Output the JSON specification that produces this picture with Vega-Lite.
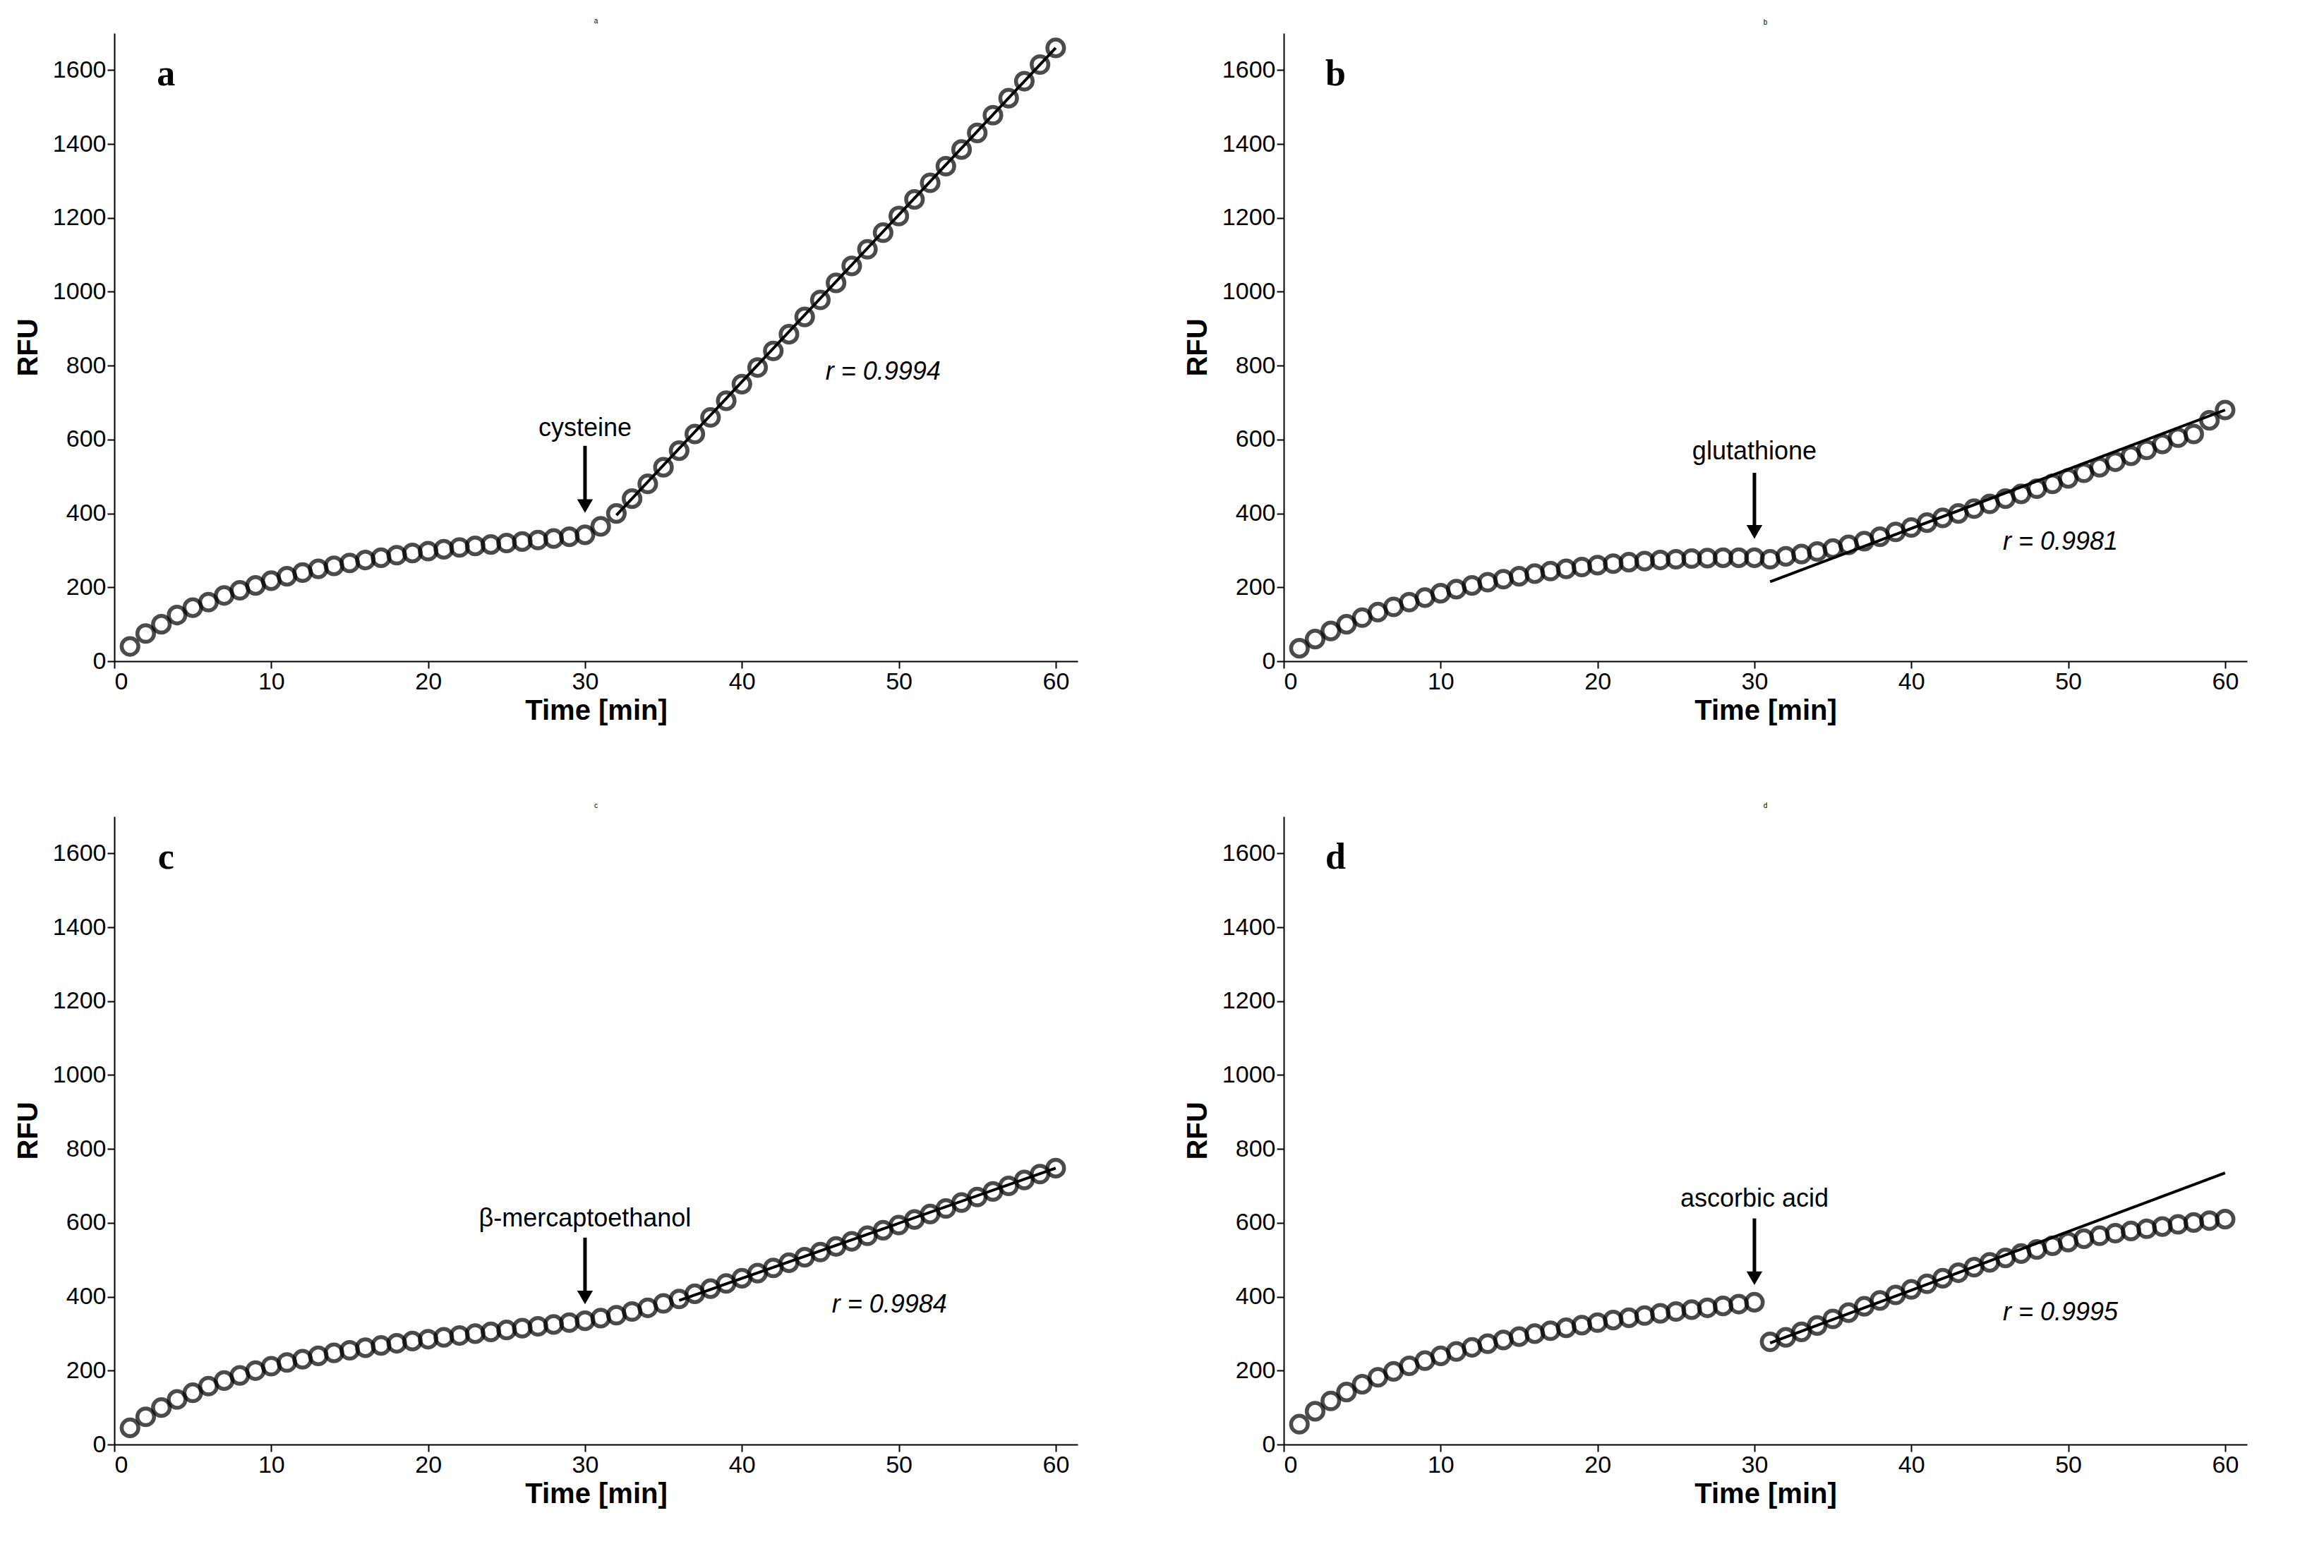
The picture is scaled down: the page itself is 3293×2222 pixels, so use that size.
{
  "$schema": "https://vega.github.io/schema/vega-lite/v6.json",
  "background": "white",
  "padding": {"left": 20, "top": 25, "right": 20, "bottom": 10},
  "config": {
    "font": "Liberation Sans",
    "view": {"stroke": null},
    "axis": {"grid": false, "domainColor": "black", "tickColor": "black", "domainWidth": 2, "tickWidth": 2, "tickSize": 10, "labelFontSize": 34, "labelColor": "black", "titleFontSize": 40, "titleFontWeight": "bold", "titleColor": "black", "format": "d"}
  },
  "data": {"values": [
    {"p":"a","k":"pt","x":1,"y":40},{"p":"a","k":"pt","x":2,"y":75},{"p":"a","k":"pt","x":3,"y":100},{"p":"a","k":"pt","x":4,"y":125},{"p":"a","k":"pt","x":5,"y":145},{"p":"a","k":"pt","x":6,"y":160},{"p":"a","k":"pt","x":7,"y":178},{"p":"a","k":"pt","x":8,"y":192},{"p":"a","k":"pt","x":9,"y":205},{"p":"a","k":"pt","x":10,"y":218},
    {"p":"a","k":"pt","x":11,"y":230},{"p":"a","k":"pt","x":12,"y":240},{"p":"a","k":"pt","x":13,"y":250},{"p":"a","k":"pt","x":14,"y":258},{"p":"a","k":"pt","x":15,"y":266},{"p":"a","k":"pt","x":16,"y":274},{"p":"a","k":"pt","x":17,"y":280},{"p":"a","k":"pt","x":18,"y":287},{"p":"a","k":"pt","x":19,"y":293},{"p":"a","k":"pt","x":20,"y":298},
    {"p":"a","k":"pt","x":21,"y":303},{"p":"a","k":"pt","x":22,"y":308},{"p":"a","k":"pt","x":23,"y":312},{"p":"a","k":"pt","x":24,"y":316},{"p":"a","k":"pt","x":25,"y":320},{"p":"a","k":"pt","x":26,"y":324},{"p":"a","k":"pt","x":27,"y":328},{"p":"a","k":"pt","x":28,"y":332},{"p":"a","k":"pt","x":29,"y":337},{"p":"a","k":"pt","x":30,"y":342},
    {"p":"a","k":"pt","x":31,"y":365},{"p":"a","k":"pt","x":32,"y":400},{"p":"a","k":"pt","x":33,"y":440},{"p":"a","k":"pt","x":34,"y":480},{"p":"a","k":"pt","x":35,"y":525},{"p":"a","k":"pt","x":36,"y":570},{"p":"a","k":"pt","x":37,"y":615},{"p":"a","k":"pt","x":38,"y":660},{"p":"a","k":"pt","x":39,"y":705},{"p":"a","k":"pt","x":40,"y":750},
    {"p":"a","k":"pt","x":41,"y":795},{"p":"a","k":"pt","x":42,"y":840},{"p":"a","k":"pt","x":43,"y":885},{"p":"a","k":"pt","x":44,"y":932},{"p":"a","k":"pt","x":45,"y":978},{"p":"a","k":"pt","x":46,"y":1024},{"p":"a","k":"pt","x":47,"y":1070},{"p":"a","k":"pt","x":48,"y":1115},{"p":"a","k":"pt","x":49,"y":1160},{"p":"a","k":"pt","x":50,"y":1205},
    {"p":"a","k":"pt","x":51,"y":1250},{"p":"a","k":"pt","x":52,"y":1295},{"p":"a","k":"pt","x":53,"y":1340},{"p":"a","k":"pt","x":54,"y":1385},{"p":"a","k":"pt","x":55,"y":1430},{"p":"a","k":"pt","x":56,"y":1478},{"p":"a","k":"pt","x":57,"y":1524},{"p":"a","k":"pt","x":58,"y":1570},{"p":"a","k":"pt","x":59,"y":1615},{"p":"a","k":"pt","x":60,"y":1660},
    {"p":"b","k":"pt","x":1,"y":35},{"p":"b","k":"pt","x":2,"y":60},{"p":"b","k":"pt","x":3,"y":82},{"p":"b","k":"pt","x":4,"y":100},{"p":"b","k":"pt","x":5,"y":118},{"p":"b","k":"pt","x":6,"y":133},{"p":"b","k":"pt","x":7,"y":147},{"p":"b","k":"pt","x":8,"y":160},{"p":"b","k":"pt","x":9,"y":172},{"p":"b","k":"pt","x":10,"y":184},
    {"p":"b","k":"pt","x":11,"y":195},{"p":"b","k":"pt","x":12,"y":205},{"p":"b","k":"pt","x":13,"y":214},{"p":"b","k":"pt","x":14,"y":222},{"p":"b","k":"pt","x":15,"y":230},{"p":"b","k":"pt","x":16,"y":237},{"p":"b","k":"pt","x":17,"y":244},{"p":"b","k":"pt","x":18,"y":250},{"p":"b","k":"pt","x":19,"y":255},{"p":"b","k":"pt","x":20,"y":260},
    {"p":"b","k":"pt","x":21,"y":264},{"p":"b","k":"pt","x":22,"y":268},{"p":"b","k":"pt","x":23,"y":271},{"p":"b","k":"pt","x":24,"y":274},{"p":"b","k":"pt","x":25,"y":276},{"p":"b","k":"pt","x":26,"y":278},{"p":"b","k":"pt","x":27,"y":279},{"p":"b","k":"pt","x":28,"y":280},{"p":"b","k":"pt","x":29,"y":280},{"p":"b","k":"pt","x":30,"y":280},
    {"p":"b","k":"pt","x":31,"y":276},{"p":"b","k":"pt","x":32,"y":284},{"p":"b","k":"pt","x":33,"y":290},{"p":"b","k":"pt","x":34,"y":297},{"p":"b","k":"pt","x":35,"y":305},{"p":"b","k":"pt","x":36,"y":315},{"p":"b","k":"pt","x":37,"y":325},{"p":"b","k":"pt","x":38,"y":337},{"p":"b","k":"pt","x":39,"y":350},{"p":"b","k":"pt","x":40,"y":362},
    {"p":"b","k":"pt","x":41,"y":375},{"p":"b","k":"pt","x":42,"y":388},{"p":"b","k":"pt","x":43,"y":400},{"p":"b","k":"pt","x":44,"y":413},{"p":"b","k":"pt","x":45,"y":426},{"p":"b","k":"pt","x":46,"y":440},{"p":"b","k":"pt","x":47,"y":453},{"p":"b","k":"pt","x":48,"y":467},{"p":"b","k":"pt","x":49,"y":480},{"p":"b","k":"pt","x":50,"y":495},
    {"p":"b","k":"pt","x":51,"y":510},{"p":"b","k":"pt","x":52,"y":525},{"p":"b","k":"pt","x":53,"y":540},{"p":"b","k":"pt","x":54,"y":556},{"p":"b","k":"pt","x":55,"y":572},{"p":"b","k":"pt","x":56,"y":588},{"p":"b","k":"pt","x":57,"y":605},{"p":"b","k":"pt","x":58,"y":615},{"p":"b","k":"pt","x":59,"y":652},{"p":"b","k":"pt","x":60,"y":680},
    {"p":"c","k":"pt","x":1,"y":45},{"p":"c","k":"pt","x":2,"y":75},{"p":"c","k":"pt","x":3,"y":100},{"p":"c","k":"pt","x":4,"y":122},{"p":"c","k":"pt","x":5,"y":140},{"p":"c","k":"pt","x":6,"y":158},{"p":"c","k":"pt","x":7,"y":173},{"p":"c","k":"pt","x":8,"y":187},{"p":"c","k":"pt","x":9,"y":200},{"p":"c","k":"pt","x":10,"y":212},
    {"p":"c","k":"pt","x":11,"y":222},{"p":"c","k":"pt","x":12,"y":231},{"p":"c","k":"pt","x":13,"y":240},{"p":"c","k":"pt","x":14,"y":248},{"p":"c","k":"pt","x":15,"y":255},{"p":"c","k":"pt","x":16,"y":262},{"p":"c","k":"pt","x":17,"y":268},{"p":"c","k":"pt","x":18,"y":274},{"p":"c","k":"pt","x":19,"y":280},{"p":"c","k":"pt","x":20,"y":285},
    {"p":"c","k":"pt","x":21,"y":290},{"p":"c","k":"pt","x":22,"y":295},{"p":"c","k":"pt","x":23,"y":300},{"p":"c","k":"pt","x":24,"y":305},{"p":"c","k":"pt","x":25,"y":310},{"p":"c","k":"pt","x":26,"y":315},{"p":"c","k":"pt","x":27,"y":320},{"p":"c","k":"pt","x":28,"y":325},{"p":"c","k":"pt","x":29,"y":330},{"p":"c","k":"pt","x":30,"y":335},
    {"p":"c","k":"pt","x":31,"y":342},{"p":"c","k":"pt","x":32,"y":350},{"p":"c","k":"pt","x":33,"y":360},{"p":"c","k":"pt","x":34,"y":370},{"p":"c","k":"pt","x":35,"y":382},{"p":"c","k":"pt","x":36,"y":394},{"p":"c","k":"pt","x":37,"y":408},{"p":"c","k":"pt","x":38,"y":422},{"p":"c","k":"pt","x":39,"y":436},{"p":"c","k":"pt","x":40,"y":450},
    {"p":"c","k":"pt","x":41,"y":464},{"p":"c","k":"pt","x":42,"y":478},{"p":"c","k":"pt","x":43,"y":492},{"p":"c","k":"pt","x":44,"y":507},{"p":"c","k":"pt","x":45,"y":521},{"p":"c","k":"pt","x":46,"y":536},{"p":"c","k":"pt","x":47,"y":550},{"p":"c","k":"pt","x":48,"y":565},{"p":"c","k":"pt","x":49,"y":580},{"p":"c","k":"pt","x":50,"y":594},
    {"p":"c","k":"pt","x":51,"y":609},{"p":"c","k":"pt","x":52,"y":624},{"p":"c","k":"pt","x":53,"y":639},{"p":"c","k":"pt","x":54,"y":655},{"p":"c","k":"pt","x":55,"y":670},{"p":"c","k":"pt","x":56,"y":685},{"p":"c","k":"pt","x":57,"y":700},{"p":"c","k":"pt","x":58,"y":716},{"p":"c","k":"pt","x":59,"y":732},{"p":"c","k":"pt","x":60,"y":748},
    {"p":"d","k":"pt","x":1,"y":55},{"p":"d","k":"pt","x":2,"y":90},{"p":"d","k":"pt","x":3,"y":118},{"p":"d","k":"pt","x":4,"y":142},{"p":"d","k":"pt","x":5,"y":163},{"p":"d","k":"pt","x":6,"y":182},{"p":"d","k":"pt","x":7,"y":198},{"p":"d","k":"pt","x":8,"y":213},{"p":"d","k":"pt","x":9,"y":227},{"p":"d","k":"pt","x":10,"y":240},
    {"p":"d","k":"pt","x":11,"y":252},{"p":"d","k":"pt","x":12,"y":263},{"p":"d","k":"pt","x":13,"y":273},{"p":"d","k":"pt","x":14,"y":283},{"p":"d","k":"pt","x":15,"y":292},{"p":"d","k":"pt","x":16,"y":300},{"p":"d","k":"pt","x":17,"y":308},{"p":"d","k":"pt","x":18,"y":316},{"p":"d","k":"pt","x":19,"y":323},{"p":"d","k":"pt","x":20,"y":330},
    {"p":"d","k":"pt","x":21,"y":337},{"p":"d","k":"pt","x":22,"y":343},{"p":"d","k":"pt","x":23,"y":349},{"p":"d","k":"pt","x":24,"y":355},{"p":"d","k":"pt","x":25,"y":360},{"p":"d","k":"pt","x":26,"y":365},{"p":"d","k":"pt","x":27,"y":370},{"p":"d","k":"pt","x":28,"y":375},{"p":"d","k":"pt","x":29,"y":380},{"p":"d","k":"pt","x":30,"y":385},
    {"p":"d","k":"pt","x":31,"y":278},{"p":"d","k":"pt","x":32,"y":290},{"p":"d","k":"pt","x":33,"y":305},{"p":"d","k":"pt","x":34,"y":322},{"p":"d","k":"pt","x":35,"y":340},{"p":"d","k":"pt","x":36,"y":357},{"p":"d","k":"pt","x":37,"y":374},{"p":"d","k":"pt","x":38,"y":390},{"p":"d","k":"pt","x":39,"y":405},{"p":"d","k":"pt","x":40,"y":420},
    {"p":"d","k":"pt","x":41,"y":435},{"p":"d","k":"pt","x":42,"y":450},{"p":"d","k":"pt","x":43,"y":465},{"p":"d","k":"pt","x":44,"y":480},{"p":"d","k":"pt","x":45,"y":493},{"p":"d","k":"pt","x":46,"y":505},{"p":"d","k":"pt","x":47,"y":517},{"p":"d","k":"pt","x":48,"y":528},{"p":"d","k":"pt","x":49,"y":538},{"p":"d","k":"pt","x":50,"y":548},
    {"p":"d","k":"pt","x":51,"y":557},{"p":"d","k":"pt","x":52,"y":565},{"p":"d","k":"pt","x":53,"y":572},{"p":"d","k":"pt","x":54,"y":578},{"p":"d","k":"pt","x":55,"y":584},{"p":"d","k":"pt","x":56,"y":590},{"p":"d","k":"pt","x":57,"y":596},{"p":"d","k":"pt","x":58,"y":601},{"p":"d","k":"pt","x":59,"y":606},{"p":"d","k":"pt","x":60,"y":610},
    {"p":"a","k":"fit","x":32,"y":395},{"p":"a","k":"fit","x":60,"y":1660},
    {"p":"b","k":"fit","x":31,"y":215},{"p":"b","k":"fit","x":60,"y":680},
    {"p":"c","k":"fit","x":36,"y":390},{"p":"c","k":"fit","x":60,"y":748},
    {"p":"d","k":"fit","x":31,"y":275},{"p":"d","k":"fit","x":60,"y":735},
    {"p":"a","k":"ann","x":30,"y1":583,"y2":420,"lab":"cysteine","ly":630,"r":"r = 0.9994","rx":49,"ry":784,"letter":"a","lx":3.3,"lyy":1590},
    {"p":"b","k":"ann","x":30,"y1":510,"y2":350,"lab":"glutathione","ly":567,"r":"r = 0.9981","rx":49.5,"ry":322,"letter":"b","lx":3.3,"lyy":1590},
    {"p":"c","k":"ann","x":30,"y1":560,"y2":398,"lab":"β-mercaptoethanol","ly":612,"r":"r = 0.9984","rx":49.4,"ry":379,"letter":"c","lx":3.3,"lyy":1590},
    {"p":"d","k":"ann","x":30,"y1":612,"y2":450,"lab":"ascorbic acid","ly":665,"r":"r = 0.9995","rx":49.5,"ry":358,"letter":"d","lx":3.3,"lyy":1590}
  ]},
  "facet": {"field": "p", "type": "nominal", "header": null},
  "columns": 2,
  "spacing": {"row": 110, "column": 150},
  "resolve": {"axis": {"x": "independent", "y": "independent"}},
  "spec": {
    "width": 1365,
    "height": 890,
    "encoding": {
      "x": {"field": "x", "type": "quantitative", "scale": {"domain": [0, 61.4], "nice": false}, "axis": {"values": [0, 10, 20, 30, 40, 50, 60], "title": "Time [min]"}},
      "y": {"field": "y", "type": "quantitative", "scale": {"domain": [0, 1700], "nice": false}, "axis": {"values": [0, 200, 400, 600, 800, 1000, 1200, 1400, 1600], "title": "RFU", "titlePadding": 14}}
    },
    "layer": [
      {"transform": [{"filter": "datum.k == 'fit'"}], "mark": {"type": "line", "color": "black", "strokeWidth": 4}},
      {"transform": [{"filter": "datum.k == 'pt'"}], "mark": {"type": "point", "shape": "circle", "filled": false, "color": "black", "size": 560, "strokeWidth": 5.5}},
      {"transform": [{"filter": "datum.k == 'ann'"}], "mark": {"type": "rule", "color": "black", "strokeWidth": 5},
        "encoding": {"y": {"field": "y1", "type": "quantitative"}, "y2": {"field": "y2"}}},
      {"transform": [{"filter": "datum.k == 'ann'"}], "mark": {"type": "point", "shape": "triangle-down", "filled": true, "color": "black", "size": 500, "opacity": 1},
        "encoding": {"y": {"field": "y2", "type": "quantitative"}}},
      {"transform": [{"filter": "datum.k == 'ann'"}], "mark": {"type": "text", "fontSize": 36, "color": "black", "baseline": "middle"},
        "encoding": {"y": {"field": "ly", "type": "quantitative"}, "text": {"field": "lab"}}},
      {"transform": [{"filter": "datum.k == 'ann'"}], "mark": {"type": "text", "fontSize": 36, "fontStyle": "italic", "color": "black", "baseline": "middle"},
        "encoding": {"x": {"field": "rx", "type": "quantitative"}, "y": {"field": "ry", "type": "quantitative"}, "text": {"field": "r"}}},
      {"transform": [{"filter": "datum.k == 'ann'"}], "mark": {"type": "text", "fontSize": 52, "fontWeight": "bold", "font": "Liberation Serif", "color": "black", "baseline": "middle"},
        "encoding": {"x": {"field": "lx", "type": "quantitative"}, "y": {"field": "lyy", "type": "quantitative"}, "text": {"field": "letter"}}}
    ]
  }
}
